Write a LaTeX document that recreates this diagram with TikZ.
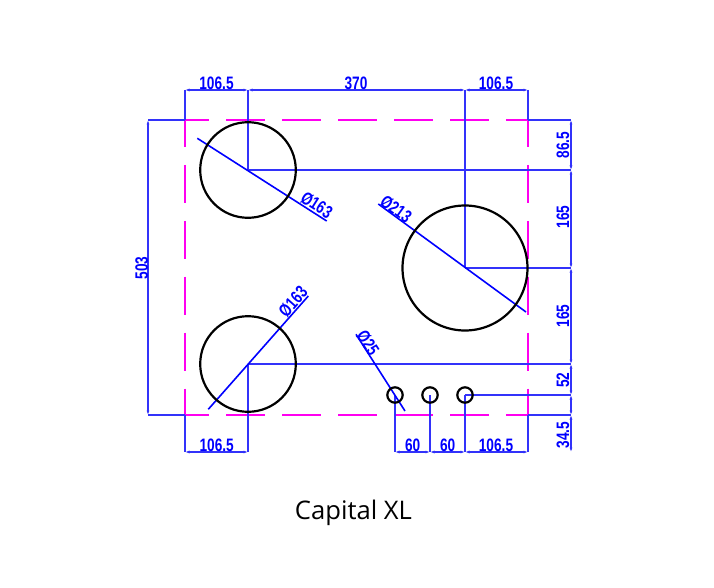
\documentclass[tikz,border=0pt]{standalone}
\usepackage{fontspec}
\usepackage{graphicx}
\setmainfont{Liberation Sans}
\newfontfamily\titlefont{Open Sans}
\newfontfamily\dimfont[FakeStretch=0.76]{Liberation Sans}
\usetikzlibrary{arrows.meta}
\definecolor{dimblue}{RGB}{50,50,250}
\definecolor{framemag}{RGB}{255,0,240}
\newcommand{\dimtxt}[1]{{\dimfont\bfseries\fontsize{18}{18}\selectfont #1}}
\tikzset{
  extline/.style={draw=dimblue,line width=1.7pt},
  dimline/.style={draw=dimblue,line width=1.5pt,{Latex[length=4.5pt,width=3pt]}-{Latex[length=4.5pt,width=3pt]}},
  leader/.style={draw=blue,line width=1.6pt},
  framedash/.style={draw=framemag,line width=2.2pt,dash pattern=on 38.5pt off 17.4pt},
  hob/.style={draw=black,line width=2.2pt,fill=none},
  dimlabel/.style={text=blue,inner sep=0pt,outer sep=0pt},
}
\begin{document}
\begin{tikzpicture}[x=1pt,y=-1pt]
\useasboundingbox (0,0) rectangle (714,588);
\fill[white] (0,0) rectangle (714,588);
% reference points
\coordinate (TL) at (185,120);
\coordinate (TR) at (528,120);
\coordinate (BL) at (185,415);
\coordinate (BR) at (528,415);
\coordinate (c1) at (248,170);
\coordinate (c2) at (465,268);
\coordinate (c3) at (248,364);
\coordinate (k1) at (395,395);
\coordinate (k2) at (430,395);
\coordinate (k3) at (465,395);
% dashed outline
\draw[framedash,dash phase=14.5pt] (TL) -- (TR);
\draw[framedash,dash phase=14.5pt] (BL) -- (BR);
\draw[framedash,dash phase=11pt] (TL) -- (BL);
\draw[framedash,dash phase=11pt] (TR) -- (BR);
% extension lines
\draw[extline] (185,90) -- (TL);
\draw[extline] (528,90) -- (TR);
\draw[extline] (248,90) -- (c1);
\draw[extline] (465,90) -- (c2);
\draw[extline] (148,120) -- (TL);
\draw[extline] (148,415) -- (BL);
\draw[extline] (TR) -- (571,120);
\draw[extline] (c1) -- (571,170);
\draw[extline] (c2) -- (571,268);
\draw[extline] (c3) -- (571,364);
\draw[extline] (k3) -- (571,395);
\draw[extline] (BR) -- (571,415);
\draw[extline] (BL) -- (185,452);
\draw[extline] (c3) -- (248,452);
\draw[extline] (k1) -- (395,452);
\draw[extline] (k2) -- (430,452);
\draw[extline] (k3) -- (465,452);
\draw[extline] (BR) -- (528,452);
% dimension lines
\draw[dimline] (185,90) -- (248,90);
\draw[dimline] (248,90) -- (465,90);
\draw[dimline] (465,90) -- (528,90);
\draw[dimline] (185,452) -- (248,452);
\draw[dimline] (395,452) -- (430,452);
\draw[dimline] (430,452) -- (465,452);
\draw[dimline] (465,452) -- (528,452);
\draw[dimline] (148,120) -- (148,415);
\draw[dimline] (571,120) -- (571,170);
\draw[dimline] (571,170) -- (571,268);
\draw[dimline] (571,268) -- (571,364);
\draw[dimline] (571,364) -- (571,395);
\draw[dimline] (571,395) -- (571,415);
\draw[dimline] (571,415) -- (571,452);
% leaders
\draw[leader] (197.3,138.3) -- (326.7,221);
\draw[leader] (378.3,204) -- (526,312);
\draw[leader] (208.3,409.3) -- (308.3,296);
\draw[leader] (356,334.3) -- (405,411);
% hobs
\draw[hob] (c1) circle (47.8);
\draw[hob] (c2) circle (62.5);
\draw[hob] (c3) circle (47.8);
\draw[hob] (k1) circle (7.7);
\draw[hob] (k2) circle (7.7);
\draw[hob] (k3) circle (7.7);
% labels
\node[dimlabel] (d1) at (216.5,83) {\dimtxt{106.5}};
\node[dimlabel] (d2) at (356,83) {\dimtxt{370}};
\node[dimlabel] (d3) at (496,83) {\dimtxt{106.5}};
\node[dimlabel] (d4) at (216.7,445) {\dimtxt{106.5}};
\node[dimlabel] (d5) at (412.7,445) {\dimtxt{60}};
\node[dimlabel] (d6) at (447.7,445) {\dimtxt{60}};
\node[dimlabel] (d7) at (496,445) {\dimtxt{106.5}};
\node[dimlabel,rotate=90] (d8) at (141.7,268) {\dimtxt{503}};
\node[dimlabel,rotate=90] (d9) at (563,145) {\dimtxt{86.5}};
\node[dimlabel,rotate=90] (d10) at (563,217) {\dimtxt{165}};
\node[dimlabel,rotate=90] (d11) at (563,316) {\dimtxt{165}};
\node[dimlabel,rotate=90] (d12) at (563,380) {\dimtxt{52}};
\node[dimlabel,rotate=90] (d13) at (563,435) {\dimtxt{34.5}};
\node[dimlabel,rotate=-32.6] (p1) at (316.7,205) {\dimtxt{Ø163}};
\node[dimlabel,rotate=-36] (p2) at (396,209) {\dimtxt{Ø213}};
\node[dimlabel,rotate=48.5] (p3) at (293,301.7) {\dimtxt{Ø163}};
\node[dimlabel,rotate=-57.5] (p4) at (368,342.7) {\dimtxt{Ø25}};
\node[inner sep=0pt,text=black] (title) at (353.5,513) {\titlefont\fontsize{25.6}{25.6}\selectfont Capital XL};
\end{tikzpicture}
\end{document}
